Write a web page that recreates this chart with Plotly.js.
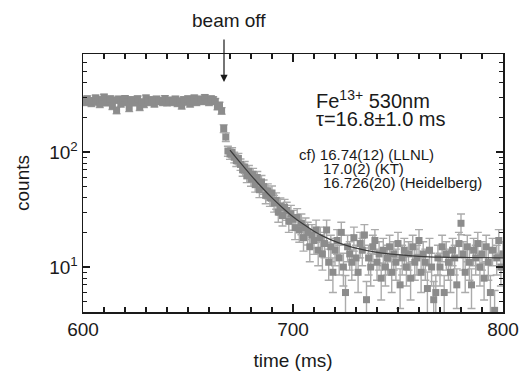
<!DOCTYPE html>
<html><head><meta charset="utf-8">
<script src="https://cdn.plot.ly/plotly-3.0.1.min.js"></script>
<style>html,body{margin:0;padding:0;background:#fff}#chart{width:528px;height:374px}</style>
</head><body><div id="chart"></div>
<script>
// time bins (ms): 600..800, 1 ms per bin
const START_MS = 600, BIN_MS = 1;
const counts = [
  285, 270, 290, 275, 265, 280, 295, 272, 260, 285,
  300, 268, 275, 290, 250, 282, 230, 288, 262, 278,
  292, 270, 240, 285, 275, 268, 290, 245, 272, 260,
  295, 278, 270, 285, 262, 288, 275, 280, 270, 292,
  268, 282, 275, 270, 288, 265, 278, 252, 285, 272,
  290, 262, 280, 295, 270, 285, 288, 275, 298, 282,
  270, 290, 285, 275, 248, 255, 228, 160, 135, 102,
  96, 99, 90, 84, 88, 78, 70, 74, 62, 68,
  58, 64, 52, 60, 47, 55, 50, 42, 46, 40,
  44, 36, 38, 30, 34, 28, 33, 31, 25, 29,
  26, 22, 27, 21, 24, 18, 22, 20, 15, 19,
  17, 21, 14, 18, 13, 16, 21, 11, 15, 9,
  14, 17, 12, 20, 10, 6, 15, 13, 11, 18,
  12, 9, 16, 14, 19, 5.2, 12, 10, 15, 17,
  11, 13, 8, 14, 10, 12, 15, 9, 13, 11,
  16, 7, 12, 14, 10, 13, 8, 15, 11, 12,
  17, 9, 13, 11, 6.5, 14, 10, 5.2, 6, 12,
  10, 15, 6, 13, 11, 9, 14, 12, 7, 16,
  24, 13, 9, 15, 11, 7, 14, 12, 16, 10,
  13, 8, 15, 11, 6, 14, 4.2, 12, 17, 10,
  13
];
const timeMs = counts.map((_, i) => START_MS + i * BIN_MS);

const fitTime   = [670, 672, 675, 680, 685, 690, 695, 700, 705, 710, 715, 720, 725, 730, 740, 750, 760, 770, 785, 800];
const fitCounts = [104, 93.7, 80.3, 62.7, 49.6, 39.9, 32.8, 27.4, 23.5, 20.5, 18.3, 16.7, 15.5, 14.6, 13.4, 12.8, 12.4, 12.2, 12.1, 12.0];

// axis ticks
const xMajor = [600, 700, 800];
const yMajor = [10, 100];
const yMajorText = ['10<sup>1</sup>', '10<sup>2</sup>'];
const yMinor = [5, 6, 7, 8, 9, 20, 30, 40, 50, 60, 70, 80, 90, 200, 300, 400, 500, 600, 700];

const FONT = 'Liberation Sans, Arial, Helvetica, sans-serif';
const INK = '#1a1a1a';

const traces = [
  {
    x: timeMs, y: counts, type: 'scatter', mode: 'markers',
    marker: {symbol: 'square', size: 7, color: '#8c8c8c'},
    error_y: {type: 'sqrt', color: '#ababab', thickness: 1.4, width: 4},
    hoverinfo: 'skip', showlegend: false
  },
  {
    x: fitTime, y: fitCounts, type: 'scatter', mode: 'lines',
    line: {color: '#3c3c3c', width: 1.2, shape: 'spline'},
    hoverinfo: 'skip', showlegend: false
  }
];

const PX0 = 83, PX1 = 503, PY0 = 54, PY1 = 312;
const px = v => (v - PX0) / (PX1 - PX0);
const py = v => (PY1 - v) / (PY1 - PY0);

const layout = {
  width: 528, height: 374,
  margin: {l: 83, r: 25, t: 54, b: 62, pad: 0},
  paper_bgcolor: '#fff', plot_bgcolor: '#fff',
  font: {family: FONT, color: INK, size: 19},
  showlegend: false,
  xaxis: {
    range: [600, 800], tickmode: 'array', tickvals: xMajor,
    ticks: 'inside', ticklen: 8, tickwidth: 1.2, tickcolor: INK,
    minor: {dtick: 10, tick0: 600, ticks: 'inside', ticklen: 5, tickwidth: 1.1, tickcolor: INK},
    showline: true, linecolor: INK, linewidth: 1.5, mirror: 'allticks',
    showgrid: false, zeroline: false,
    tickfont: {size: 19, family: FONT, color: INK},
    title: {text: 'time (ms)', font: {size: 19, family: FONT, color: INK}, standoff: 14}
  },
  yaxis: {
    type: 'log', range: [0.609, 2.852],
    tickmode: 'array', tickvals: yMajor, ticktext: yMajorText,
    ticks: 'inside', ticklen: 7, tickwidth: 1.2, tickcolor: INK,
    minor: {tickmode: 'array', tickvals: yMinor, ticks: 'inside', ticklen: 4, tickwidth: 1.1, tickcolor: INK},
    showline: true, linecolor: INK, linewidth: 1.5, mirror: 'allticks',
    showgrid: false, zeroline: false,
    tickfont: {size: 19, family: FONT, color: INK},
    title: {text: 'counts', font: {size: 19, family: FONT, color: INK}, standoff: 14}
  },
  annotations: [
    {xref: 'paper', yref: 'paper', x: px(228.5), y: py(20), xanchor: 'center', yanchor: 'middle',
     text: 'beam off', showarrow: false, font: {size: 19, family: FONT, color: INK}},
    {xref: 'paper', yref: 'paper', x: px(224), y: py(82), text: '', showarrow: true,
     ax: 0, ay: -44, arrowhead: 2, arrowsize: 1.2, arrowwidth: 1.2, arrowcolor: INK},
    {xref: 'paper', yref: 'paper', x: px(314), y: py(99), xanchor: 'left', yanchor: 'middle',
     text: 'Fe<sup>13+</sup> 530nm', showarrow: false, font: {size: 20, family: FONT, color: INK}},
    {xref: 'paper', yref: 'paper', x: px(314), y: py(119), xanchor: 'left', yanchor: 'middle',
     text: 'τ=16.8±1.0 ms', showarrow: false, font: {size: 20, family: FONT, color: INK}},
    {xref: 'paper', yref: 'paper', x: px(297), y: py(154), xanchor: 'left', yanchor: 'middle',
     text: 'cf) 16.74(12) (LLNL)', showarrow: false, font: {size: 15, family: FONT, color: INK}},
    {xref: 'paper', yref: 'paper', x: px(321), y: py(168), xanchor: 'left', yanchor: 'middle',
     text: '17.0(2) (KT)', showarrow: false, font: {size: 15, family: FONT, color: INK}},
    {xref: 'paper', yref: 'paper', x: px(321), y: py(182), xanchor: 'left', yanchor: 'middle',
     text: '16.726(20) (Heidelberg)', showarrow: false, font: {size: 15, family: FONT, color: INK}}
  ]
};

Plotly.newPlot('chart', traces, layout, {staticPlot: true, displayModeBar: false});
</script>
</body></html>
